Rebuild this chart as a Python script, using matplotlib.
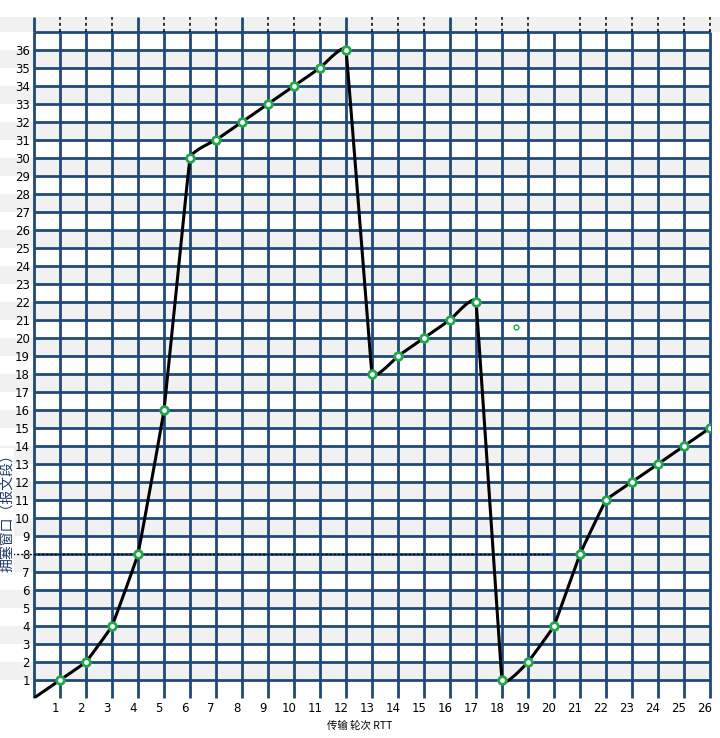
import numpy as np
import matplotlib
matplotlib.use("Agg")
from matplotlib import pyplot as plt
from matplotlib.transforms import ScaledTranslation

plt.rcParams['font.family'] = ['Noto Sans CJK SC', 'DejaVu Sans']

# data
rounds = [0, 1, 2, 3, 4, 5, 6, 7, 8, 9, 10, 11, 12, 13, 14, 15, 16, 17, 18, 19, 20, 21, 22, 23, 24, 25, 26]
cwnd = [0, 1, 2, 4, 8, 16, 30, 31, 32, 33, 34, 35, 36, 18, 19, 20, 21, 22, 1, 2, 4, 8, 11, 12, 13, 14, 15]
xtick_labels = [str(i) for i in range(1, 27)]
ytick_labels = [str(i) for i in range(1, 37)]
threshold = 8
stray_point = (18.54, 20.6)

grid_col = '#1f497d'
band_col = '#f1f1f1'
green = '#22a84a'


def cardinal(xs, ys, s=0.08, n=20):
    p = np.column_stack([xs, ys]).astype(float)
    ext = np.vstack([p[0], p, p[-1]])
    out = []
    for i in range(len(p) - 1):
        p0, p1 = ext[i + 1], ext[i + 2]
        m0 = s * (ext[i + 2] - ext[i])
        m1 = s * (ext[i + 3] - ext[i + 1])
        t = np.linspace(0, 1, n)[:, None]
        h00 = 2 * t**3 - 3 * t**2 + 1
        h10 = t**3 - 2 * t**2 + t
        h01 = -2 * t**3 + 3 * t**2
        h11 = t**3 - t**2
        out.append(h00 * p0 + h10 * m0 + h01 * p1 + h11 * m1)
    c = np.vstack(out)
    return c[:, 0], c[:, 1]


fig = plt.figure(figsize=(7.2, 7.38), dpi=100)
ax = fig.add_axes([34 / 720, 40 / 738, 676 / 720, 666 / 738])
ax.set_xlim(0, 26)
ax.set_ylim(0, 37)
for sp in ax.spines.values():
    sp.set_visible(False)

left_ext = -34 / 676
right_ext = 686 / 676
# interlaced bands
for y0 in range(1, 37, 2):
    ax.axhspan(y0, y0 + 1, xmin=left_ext, xmax=1, color=band_col, lw=0, zorder=0, clip_on=False)
top = 37 + 15 / 18
ax.axhspan(37, top, xmin=left_ext, xmax=right_ext, color=band_col, lw=0, zorder=0, clip_on=False)

# grid
ax.vlines(rounds, 0, 37, color=grid_col, lw=2.0, zorder=1, clip_on=False)
ax.hlines(range(1, 38), 0, 26, color=grid_col, lw=2.0, zorder=1, clip_on=False)
solid_top = [0, 4, 8, 12, 16]
dotted_top = [x for x in rounds if x not in solid_top and x != 20]
ax.vlines(solid_top, 37, top, color=grid_col, lw=2.0, zorder=1, clip_on=False)
ax.vlines(dotted_top, 37, top, color='black', lw=1.1, linestyles=(0, (2, 2)), zorder=1, clip_on=False)

# threshold line
ax.plot([-34 / 26, 19.92], [threshold, threshold], color='black', lw=1, ls=(0, (1.5, 1.5)), zorder=2, clip_on=False)
ax.plot([19.92], [threshold], marker='s', ms=2, color='#3050c0', zorder=2)

# cwnd curve
cx, cy = cardinal(rounds, cwnd)
ax.plot(cx, cy, color='black', lw=2.2, zorder=3, solid_capstyle='round')
ax.plot(rounds[1:], cwnd[1:], ls='none', marker='o', ms=5.5, mfc='white', mec=green, mew=2, zorder=4)
ax.plot([stray_point[0]], [stray_point[1]], ls='none', marker='o', ms=3.5, mfc='white', mec=green, mew=1, zorder=4)

ax.set_xticks(range(1, 27))
ax.set_xticklabels(xtick_labels, fontsize=8.5, family=['DejaVu Sans'])
ax.set_yticks(range(1, 37))
ax.set_yticklabels(ytick_labels, fontsize=8.5, family=['DejaVu Sans'])
ax.tick_params(length=0, pad=3)
off = ScaledTranslation(-0.05, 0, fig.dpi_scale_trans)
for lab in ax.get_xticklabels():
    lab.set_transform(lab.get_transform() + off)

ax.text(-27 / 676, (698 - 510) / 666, '拥塞窗口（报文段）', transform=ax.transAxes,
        rotation=90, ha='center', va='center', fontsize=10, color='#1f3864',
        bbox=dict(facecolor='white', edgecolor='none', pad=0))
fig.text(360 / 720, 1 - 726 / 738, '传输 轮次 RTT', ha='center', va='center', fontsize=7.5)

fig.savefig('out.png', dpi=100)
